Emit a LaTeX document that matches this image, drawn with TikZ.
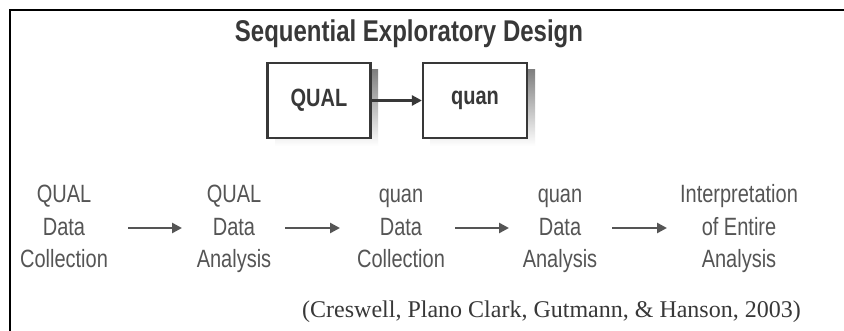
\documentclass[tikz,border=0pt]{standalone}
\usepackage{fontspec}
\setmainfont{Liberation Serif}
\setsansfont[FakeStretch=0.8]{Liberation Sans}
\usetikzlibrary{arrows.meta}
\definecolor{ink}{HTML}{383838}
\definecolor{soft}{HTML}{555555}
\definecolor{shade}{HTML}{8C8C8C}
\tikzset{
  stage/.style={align=center, text=soft, font=\sffamily\fontsize{25}{32.5}\selectfont, inner sep=0pt},
  flow/.style={draw=soft, line width=2.6pt, -{Triangle[length=10pt,width=10pt]}},
  phasebox/.style={draw=ink, line width=2.2pt, fill=white, minimum width=103pt, minimum height=75pt,
    font=\sffamily\bfseries\fontsize{25}{27}\selectfont, text=ink, inner sep=0pt},
}
\begin{document}
\begin{tikzpicture}[x=1pt,y=-1pt]
\useasboundingbox (0,0) rectangle (844,331);
\fill[white] (0,0) rectangle (844,331);
% frame
\draw[black, line width=2.8pt] (10,331) -- (10,10) -- (844,10);
% title
\node[font=\sffamily\bfseries\fontsize{30}{32}\selectfont, text=ink, anchor=base, inner sep=0pt] (title) at (409,42) {Sequential Exploratory Design};
% phase boxes with drop shadows
\fill[shade] (275,70) rectangle (378,146);
\fill[shade] (430,70) rectangle (535,146);
\node[phasebox] (qual) at (319,100.5) {QUAL};
\node[phasebox, minimum width=104pt] (quan) at (475,100.5) {quan};
\draw[flow, draw=ink] (qual) -- (quan);
% stages
\node[stage] (s1) at (64,229) {\strut QUAL\\\strut Data\\\strut Collection};
\node[stage] (s2) at (234,229) {\strut QUAL\\\strut Data\\\strut Analysis};
\node[stage] (s3) at (401,229) {\strut quan\\\strut Data\\\strut Collection};
\node[stage] (s4) at (560,229) {\strut quan\\\strut Data\\\strut Analysis};
\node[stage] (s5) at (739,229) {\strut Interpretation\\\strut of Entire\\\strut Analysis};
\coordinate (a1s) at (128,228); \coordinate (a1e) at (182,228);
\coordinate (a2s) at (285,228); \coordinate (a2e) at (340,228);
\coordinate (a3s) at (455,228); \coordinate (a3e) at (509,228);
\coordinate (a4s) at (612,228); \coordinate (a4e) at (667,228);
\draw[flow] (a1s) -- (a1e);
\draw[flow] (a2s) -- (a2e);
\draw[flow] (a3s) -- (a3e);
\draw[flow] (a4s) -- (a4e);
% citation
\node[font=\rmfamily\fontsize{24}{26}\selectfont, text=ink, anchor=base west, inner sep=0pt] (cite) at (302,317) {(Creswell, Plano Clark, Gutmann, \& Hanson, 2003)};
\end{tikzpicture}
\end{document}
